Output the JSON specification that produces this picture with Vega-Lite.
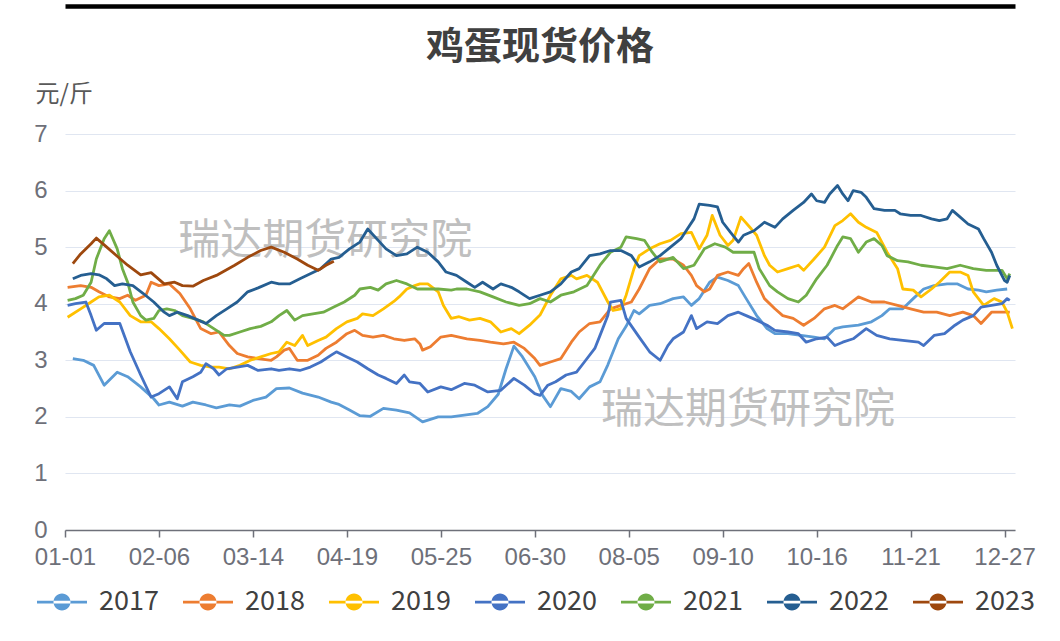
{
  "$schema": "https://vega.github.io/schema/vega-lite/v6.json",
  "width": 950,
  "height": 396,
  "autosize": {"type": "none"},
  "padding": {"left": 65, "top": 134, "right": 45, "bottom": 111},
  "background": "white",
  "config": {"font": "Noto Sans CJK SC", "view": {"stroke": null}},
  "title": {"text": "鸡蛋现货价格", "fontSize": 38, "fontWeight": "bold", "color": "#404040", "anchor": "middle", "frame": "group", "offset": -61},
  "datasets": {
    "wm": [
      {"t": "瑞达期货研究院", "d": 99.7, "v": 5.1},
      {"t": "瑞达期货研究院", "d": 261.7, "v": 2.12}
    ],
    "prices": [
      {"s":"2017","d":3,"v":3.03},{"s":"2017","d":7,"v":3.0},{"s":"2017","d":11,"v":2.91},{"s":"2017","d":15,"v":2.56},{"s":"2017","d":20,"v":2.79},{"s":"2017","d":24,"v":2.71},{"s":"2017","d":29,"v":2.53},{"s":"2017","d":34,"v":2.32},{"s":"2017","d":36,"v":2.21},{"s":"2017","d":40,"v":2.26},{"s":"2017","d":45,"v":2.19},{"s":"2017","d":49,"v":2.26},{"s":"2017","d":54,"v":2.21},{"s":"2017","d":58,"v":2.16},{"s":"2017","d":63,"v":2.21},{"s":"2017","d":67,"v":2.19},{"s":"2017","d":72,"v":2.29},{"s":"2017","d":77,"v":2.35},{"s":"2017","d":81,"v":2.5},{"s":"2017","d":86,"v":2.51},{"s":"2017","d":91,"v":2.42},{"s":"2017","d":97,"v":2.35},{"s":"2017","d":102,"v":2.26},{"s":"2017","d":105,"v":2.22},{"s":"2017","d":109,"v":2.12},{"s":"2017","d":113,"v":2.02},{"s":"2017","d":117,"v":2.01},{"s":"2017","d":122,"v":2.15},{"s":"2017","d":127,"v":2.12},{"s":"2017","d":132,"v":2.07},{"s":"2017","d":137,"v":1.91},{"s":"2017","d":143,"v":2.0},{"s":"2017","d":148,"v":2.0},{"s":"2017","d":153,"v":2.03},{"s":"2017","d":158,"v":2.06},{"s":"2017","d":162,"v":2.18},{"s":"2017","d":166,"v":2.4},{"s":"2017","d":169,"v":2.85},{"s":"2017","d":172,"v":3.25},{"s":"2017","d":175,"v":3.08},{"s":"2017","d":180,"v":2.71},{"s":"2017","d":183,"v":2.38},{"s":"2017","d":186,"v":2.18},{"s":"2017","d":190,"v":2.5},{"s":"2017","d":194,"v":2.45},{"s":"2017","d":197,"v":2.32},{"s":"2017","d":201,"v":2.53},{"s":"2017","d":205,"v":2.62},{"s":"2017","d":208,"v":2.92},{"s":"2017","d":212,"v":3.38},{"s":"2017","d":215,"v":3.6},{"s":"2017","d":218,"v":3.88},{"s":"2017","d":220,"v":3.82},{"s":"2017","d":224,"v":3.97},{"s":"2017","d":228,"v":4.0},{"s":"2017","d":233,"v":4.09},{"s":"2017","d":237,"v":4.12},{"s":"2017","d":240,"v":3.97},{"s":"2017","d":243,"v":4.09},{"s":"2017","d":247,"v":4.38},{"s":"2017","d":250,"v":4.47},{"s":"2017","d":254,"v":4.41},{"s":"2017","d":258,"v":4.32},{"s":"2017","d":261,"v":4.09},{"s":"2017","d":265,"v":3.79},{"s":"2017","d":269,"v":3.56},{"s":"2017","d":272,"v":3.47},{"s":"2017","d":277,"v":3.47},{"s":"2017","d":282,"v":3.44},{"s":"2017","d":287,"v":3.41},{"s":"2017","d":291,"v":3.38},{"s":"2017","d":295,"v":3.56},{"s":"2017","d":298,"v":3.59},{"s":"2017","d":304,"v":3.62},{"s":"2017","d":309,"v":3.68},{"s":"2017","d":313,"v":3.79},{"s":"2017","d":316,"v":3.91},{"s":"2017","d":321,"v":3.91},{"s":"2017","d":325,"v":4.09},{"s":"2017","d":329,"v":4.26},{"s":"2017","d":333,"v":4.32},{"s":"2017","d":338,"v":4.35},{"s":"2017","d":342,"v":4.35},{"s":"2017","d":346,"v":4.26},{"s":"2017","d":350,"v":4.24},{"s":"2017","d":353,"v":4.21},{"s":"2017","d":357,"v":4.24},{"s":"2017","d":361,"v":4.26},
      {"s":"2018","d":1,"v":4.29},{"s":"2018","d":6,"v":4.32},{"s":"2018","d":10,"v":4.29},{"s":"2018","d":13,"v":4.21},{"s":"2018","d":17,"v":4.12},{"s":"2018","d":21,"v":4.09},{"s":"2018","d":24,"v":4.15},{"s":"2018","d":27,"v":4.06},{"s":"2018","d":31,"v":4.15},{"s":"2018","d":33,"v":4.38},{"s":"2018","d":36,"v":4.32},{"s":"2018","d":40,"v":4.35},{"s":"2018","d":44,"v":4.18},{"s":"2018","d":48,"v":3.91},{"s":"2018","d":52,"v":3.56},{"s":"2018","d":56,"v":3.47},{"s":"2018","d":59,"v":3.5},{"s":"2018","d":63,"v":3.26},{"s":"2018","d":66,"v":3.12},{"s":"2018","d":70,"v":3.06},{"s":"2018","d":74,"v":3.03},{"s":"2018","d":79,"v":3.0},{"s":"2018","d":81,"v":3.06},{"s":"2018","d":84,"v":3.18},{"s":"2018","d":86,"v":3.21},{"s":"2018","d":89,"v":3.0},{"s":"2018","d":93,"v":3.0},{"s":"2018","d":97,"v":3.09},{"s":"2018","d":100,"v":3.21},{"s":"2018","d":104,"v":3.32},{"s":"2018","d":108,"v":3.47},{"s":"2018","d":111,"v":3.53},{"s":"2018","d":114,"v":3.44},{"s":"2018","d":118,"v":3.41},{"s":"2018","d":122,"v":3.44},{"s":"2018","d":126,"v":3.38},{"s":"2018","d":130,"v":3.35},{"s":"2018","d":134,"v":3.38},{"s":"2018","d":136,"v":3.29},{"s":"2018","d":137,"v":3.18},{"s":"2018","d":140,"v":3.24},{"s":"2018","d":144,"v":3.41},{"s":"2018","d":148,"v":3.44},{"s":"2018","d":154,"v":3.38},{"s":"2018","d":159,"v":3.35},{"s":"2018","d":163,"v":3.32},{"s":"2018","d":168,"v":3.29},{"s":"2018","d":172,"v":3.32},{"s":"2018","d":176,"v":3.21},{"s":"2018","d":180,"v":3.03},{"s":"2018","d":182,"v":2.91},{"s":"2018","d":186,"v":2.97},{"s":"2018","d":190,"v":3.03},{"s":"2018","d":194,"v":3.32},{"s":"2018","d":197,"v":3.5},{"s":"2018","d":201,"v":3.65},{"s":"2018","d":205,"v":3.68},{"s":"2018","d":209,"v":3.91},{"s":"2018","d":213,"v":3.97},{"s":"2018","d":217,"v":4.03},{"s":"2018","d":220,"v":4.26},{"s":"2018","d":224,"v":4.62},{"s":"2018","d":228,"v":4.79},{"s":"2018","d":233,"v":4.79},{"s":"2018","d":237,"v":4.68},{"s":"2018","d":240,"v":4.5},{"s":"2018","d":242,"v":4.32},{"s":"2018","d":245,"v":4.21},{"s":"2018","d":247,"v":4.26},{"s":"2018","d":250,"v":4.5},{"s":"2018","d":254,"v":4.56},{"s":"2018","d":258,"v":4.5},{"s":"2018","d":260,"v":4.62},{"s":"2018","d":262,"v":4.71},{"s":"2018","d":265,"v":4.38},{"s":"2018","d":268,"v":4.09},{"s":"2018","d":272,"v":3.91},{"s":"2018","d":275,"v":3.79},{"s":"2018","d":279,"v":3.74},{"s":"2018","d":283,"v":3.62},{"s":"2018","d":287,"v":3.74},{"s":"2018","d":291,"v":3.91},{"s":"2018","d":295,"v":3.97},{"s":"2018","d":298,"v":3.91},{"s":"2018","d":304,"v":4.12},{"s":"2018","d":309,"v":4.03},{"s":"2018","d":314,"v":4.03},{"s":"2018","d":319,"v":3.97},{"s":"2018","d":324,"v":3.91},{"s":"2018","d":329,"v":3.85},{"s":"2018","d":334,"v":3.85},{"s":"2018","d":339,"v":3.79},{"s":"2018","d":344,"v":3.85},{"s":"2018","d":348,"v":3.79},{"s":"2018","d":351,"v":3.65},{"s":"2018","d":355,"v":3.85},{"s":"2018","d":359,"v":3.85},{"s":"2018","d":362,"v":3.85},
      {"s":"2019","d":1,"v":3.76},{"s":"2019","d":6,"v":3.91},{"s":"2019","d":10,"v":4.03},{"s":"2019","d":13,"v":4.12},{"s":"2019","d":17,"v":4.15},{"s":"2019","d":21,"v":4.03},{"s":"2019","d":25,"v":3.79},{"s":"2019","d":29,"v":3.68},{"s":"2019","d":33,"v":3.68},{"s":"2019","d":36,"v":3.56},{"s":"2019","d":40,"v":3.38},{"s":"2019","d":44,"v":3.18},{"s":"2019","d":48,"v":2.97},{"s":"2019","d":52,"v":2.91},{"s":"2019","d":56,"v":2.88},{"s":"2019","d":59,"v":2.88},{"s":"2019","d":63,"v":2.85},{"s":"2019","d":67,"v":2.91},{"s":"2019","d":71,"v":3.0},{"s":"2019","d":75,"v":3.06},{"s":"2019","d":79,"v":3.12},{"s":"2019","d":82,"v":3.15},{"s":"2019","d":85,"v":3.32},{"s":"2019","d":88,"v":3.26},{"s":"2019","d":91,"v":3.44},{"s":"2019","d":93,"v":3.26},{"s":"2019","d":97,"v":3.35},{"s":"2019","d":100,"v":3.41},{"s":"2019","d":104,"v":3.56},{"s":"2019","d":108,"v":3.68},{"s":"2019","d":112,"v":3.74},{"s":"2019","d":114,"v":3.82},{"s":"2019","d":118,"v":3.79},{"s":"2019","d":122,"v":3.91},{"s":"2019","d":126,"v":4.04},{"s":"2019","d":128,"v":4.12},{"s":"2019","d":131,"v":4.26},{"s":"2019","d":134,"v":4.32},{"s":"2019","d":136,"v":4.35},{"s":"2019","d":139,"v":4.35},{"s":"2019","d":143,"v":4.21},{"s":"2019","d":145,"v":3.97},{"s":"2019","d":148,"v":3.74},{"s":"2019","d":151,"v":3.77},{"s":"2019","d":155,"v":3.71},{"s":"2019","d":159,"v":3.74},{"s":"2019","d":163,"v":3.68},{"s":"2019","d":167,"v":3.5},{"s":"2019","d":171,"v":3.56},{"s":"2019","d":174,"v":3.47},{"s":"2019","d":178,"v":3.62},{"s":"2019","d":182,"v":3.8},{"s":"2019","d":186,"v":4.15},{"s":"2019","d":190,"v":4.44},{"s":"2019","d":194,"v":4.5},{"s":"2019","d":196,"v":4.44},{"s":"2019","d":200,"v":4.5},{"s":"2019","d":204,"v":4.38},{"s":"2019","d":208,"v":4.03},{"s":"2019","d":210,"v":3.88},{"s":"2019","d":213,"v":3.91},{"s":"2019","d":215,"v":4.15},{"s":"2019","d":218,"v":4.62},{"s":"2019","d":220,"v":4.85},{"s":"2019","d":224,"v":4.97},{"s":"2019","d":228,"v":5.06},{"s":"2019","d":232,"v":5.12},{"s":"2019","d":236,"v":5.24},{"s":"2019","d":240,"v":5.26},{"s":"2019","d":243,"v":4.97},{"s":"2019","d":246,"v":5.21},{"s":"2019","d":248,"v":5.56},{"s":"2019","d":251,"v":5.21},{"s":"2019","d":254,"v":5.03},{"s":"2019","d":256,"v":5.12},{"s":"2019","d":259,"v":5.53},{"s":"2019","d":263,"v":5.32},{"s":"2019","d":265,"v":5.21},{"s":"2019","d":268,"v":4.85},{"s":"2019","d":270,"v":4.68},{"s":"2019","d":273,"v":4.56},{"s":"2019","d":277,"v":4.62},{"s":"2019","d":281,"v":4.68},{"s":"2019","d":283,"v":4.59},{"s":"2019","d":287,"v":4.79},{"s":"2019","d":291,"v":5.0},{"s":"2019","d":295,"v":5.38},{"s":"2019","d":298,"v":5.47},{"s":"2019","d":301,"v":5.59},{"s":"2019","d":304,"v":5.44},{"s":"2019","d":307,"v":5.35},{"s":"2019","d":311,"v":5.26},{"s":"2019","d":315,"v":4.91},{"s":"2019","d":319,"v":4.62},{"s":"2019","d":321,"v":4.26},{"s":"2019","d":325,"v":4.24},{"s":"2019","d":328,"v":4.12},{"s":"2019","d":332,"v":4.26},{"s":"2019","d":335,"v":4.38},{"s":"2019","d":339,"v":4.56},{"s":"2019","d":343,"v":4.56},{"s":"2019","d":346,"v":4.5},{"s":"2019","d":348,"v":4.21},{"s":"2019","d":352,"v":3.97},{"s":"2019","d":356,"v":4.09},{"s":"2019","d":359,"v":4.03},{"s":"2019","d":361,"v":3.85},{"s":"2019","d":363,"v":3.56},
      {"s":"2020","d":1,"v":3.97},{"s":"2020","d":4,"v":4.0},{"s":"2020","d":8,"v":4.03},{"s":"2020","d":10,"v":3.79},{"s":"2020","d":12,"v":3.53},{"s":"2020","d":15,"v":3.65},{"s":"2020","d":19,"v":3.65},{"s":"2020","d":21,"v":3.65},{"s":"2020","d":25,"v":3.15},{"s":"2020","d":29,"v":2.74},{"s":"2020","d":33,"v":2.35},{"s":"2020","d":36,"v":2.41},{"s":"2020","d":40,"v":2.53},{"s":"2020","d":43,"v":2.32},{"s":"2020","d":45,"v":2.62},{"s":"2020","d":49,"v":2.71},{"s":"2020","d":52,"v":2.79},{"s":"2020","d":54,"v":2.94},{"s":"2020","d":57,"v":2.85},{"s":"2020","d":59,"v":2.74},{"s":"2020","d":62,"v":2.85},{"s":"2020","d":66,"v":2.88},{"s":"2020","d":70,"v":2.91},{"s":"2020","d":74,"v":2.82},{"s":"2020","d":79,"v":2.85},{"s":"2020","d":82,"v":2.82},{"s":"2020","d":86,"v":2.85},{"s":"2020","d":90,"v":2.82},{"s":"2020","d":94,"v":2.88},{"s":"2020","d":98,"v":2.97},{"s":"2020","d":102,"v":3.09},{"s":"2020","d":104,"v":3.15},{"s":"2020","d":108,"v":3.06},{"s":"2020","d":112,"v":2.97},{"s":"2020","d":116,"v":2.85},{"s":"2020","d":120,"v":2.74},{"s":"2020","d":123,"v":2.68},{"s":"2020","d":127,"v":2.59},{"s":"2020","d":130,"v":2.74},{"s":"2020","d":132,"v":2.62},{"s":"2020","d":136,"v":2.59},{"s":"2020","d":139,"v":2.44},{"s":"2020","d":144,"v":2.53},{"s":"2020","d":148,"v":2.48},{"s":"2020","d":153,"v":2.59},{"s":"2020","d":157,"v":2.56},{"s":"2020","d":162,"v":2.44},{"s":"2020","d":167,"v":2.47},{"s":"2020","d":172,"v":2.68},{"s":"2020","d":176,"v":2.56},{"s":"2020","d":180,"v":2.41},{"s":"2020","d":182,"v":2.38},{"s":"2020","d":185,"v":2.56},{"s":"2020","d":188,"v":2.62},{"s":"2020","d":192,"v":2.74},{"s":"2020","d":196,"v":2.79},{"s":"2020","d":199,"v":2.97},{"s":"2020","d":203,"v":3.21},{"s":"2020","d":205,"v":3.44},{"s":"2020","d":208,"v":3.79},{"s":"2020","d":209,"v":4.03},{"s":"2020","d":213,"v":4.06},{"s":"2020","d":215,"v":3.74},{"s":"2020","d":220,"v":3.41},{"s":"2020","d":224,"v":3.15},{"s":"2020","d":228,"v":3.0},{"s":"2020","d":231,"v":3.26},{"s":"2020","d":233,"v":3.38},{"s":"2020","d":237,"v":3.5},{"s":"2020","d":240,"v":3.79},{"s":"2020","d":242,"v":3.56},{"s":"2020","d":246,"v":3.68},{"s":"2020","d":250,"v":3.65},{"s":"2020","d":254,"v":3.79},{"s":"2020","d":258,"v":3.85},{"s":"2020","d":261,"v":3.79},{"s":"2020","d":265,"v":3.71},{"s":"2020","d":269,"v":3.62},{"s":"2020","d":272,"v":3.53},{"s":"2020","d":277,"v":3.5},{"s":"2020","d":281,"v":3.47},{"s":"2020","d":284,"v":3.32},{"s":"2020","d":288,"v":3.38},{"s":"2020","d":292,"v":3.41},{"s":"2020","d":295,"v":3.26},{"s":"2020","d":298,"v":3.32},{"s":"2020","d":302,"v":3.38},{"s":"2020","d":307,"v":3.56},{"s":"2020","d":311,"v":3.44},{"s":"2020","d":316,"v":3.38},{"s":"2020","d":321,"v":3.35},{"s":"2020","d":327,"v":3.32},{"s":"2020","d":329,"v":3.26},{"s":"2020","d":333,"v":3.44},{"s":"2020","d":337,"v":3.47},{"s":"2020","d":341,"v":3.62},{"s":"2020","d":344,"v":3.71},{"s":"2020","d":348,"v":3.79},{"s":"2020","d":351,"v":3.94},{"s":"2020","d":355,"v":3.97},{"s":"2020","d":359,"v":4.0},{"s":"2020","d":361,"v":4.09},{"s":"2020","d":362,"v":4.06},
      {"s":"2021","d":1,"v":4.06},{"s":"2021","d":4,"v":4.09},{"s":"2021","d":7,"v":4.15},{"s":"2021","d":10,"v":4.38},{"s":"2021","d":12,"v":4.79},{"s":"2021","d":15,"v":5.15},{"s":"2021","d":17,"v":5.29},{"s":"2021","d":20,"v":4.97},{"s":"2021","d":22,"v":4.62},{"s":"2021","d":24,"v":4.38},{"s":"2021","d":26,"v":4.03},{"s":"2021","d":29,"v":3.79},{"s":"2021","d":31,"v":3.71},{"s":"2021","d":34,"v":3.74},{"s":"2021","d":36,"v":3.88},{"s":"2021","d":39,"v":3.91},{"s":"2021","d":42,"v":3.88},{"s":"2021","d":45,"v":3.79},{"s":"2021","d":49,"v":3.74},{"s":"2021","d":53,"v":3.68},{"s":"2021","d":57,"v":3.56},{"s":"2021","d":61,"v":3.44},{"s":"2021","d":63,"v":3.44},{"s":"2021","d":67,"v":3.5},{"s":"2021","d":71,"v":3.56},{"s":"2021","d":75,"v":3.6},{"s":"2021","d":79,"v":3.68},{"s":"2021","d":82,"v":3.79},{"s":"2021","d":85,"v":3.88},{"s":"2021","d":88,"v":3.71},{"s":"2021","d":91,"v":3.79},{"s":"2021","d":95,"v":3.82},{"s":"2021","d":99,"v":3.85},{"s":"2021","d":103,"v":3.94},{"s":"2021","d":107,"v":4.03},{"s":"2021","d":111,"v":4.15},{"s":"2021","d":113,"v":4.26},{"s":"2021","d":117,"v":4.29},{"s":"2021","d":120,"v":4.24},{"s":"2021","d":123,"v":4.35},{"s":"2021","d":127,"v":4.41},{"s":"2021","d":131,"v":4.35},{"s":"2021","d":135,"v":4.26},{"s":"2021","d":139,"v":4.26},{"s":"2021","d":143,"v":4.26},{"s":"2021","d":148,"v":4.24},{"s":"2021","d":150,"v":4.26},{"s":"2021","d":154,"v":4.26},{"s":"2021","d":159,"v":4.21},{"s":"2021","d":164,"v":4.12},{"s":"2021","d":169,"v":4.03},{"s":"2021","d":174,"v":3.97},{"s":"2021","d":178,"v":4.0},{"s":"2021","d":182,"v":4.09},{"s":"2021","d":186,"v":4.03},{"s":"2021","d":190,"v":4.15},{"s":"2021","d":195,"v":4.21},{"s":"2021","d":200,"v":4.32},{"s":"2021","d":205,"v":4.68},{"s":"2021","d":209,"v":4.91},{"s":"2021","d":213,"v":5.0},{"s":"2021","d":215,"v":5.18},{"s":"2021","d":219,"v":5.15},{"s":"2021","d":222,"v":5.12},{"s":"2021","d":225,"v":4.91},{"s":"2021","d":228,"v":4.74},{"s":"2021","d":233,"v":4.82},{"s":"2021","d":237,"v":4.62},{"s":"2021","d":241,"v":4.68},{"s":"2021","d":245,"v":4.97},{"s":"2021","d":249,"v":5.06},{"s":"2021","d":253,"v":5.0},{"s":"2021","d":256,"v":4.91},{"s":"2021","d":260,"v":4.91},{"s":"2021","d":264,"v":4.91},{"s":"2021","d":266,"v":4.62},{"s":"2021","d":270,"v":4.32},{"s":"2021","d":273,"v":4.21},{"s":"2021","d":277,"v":4.09},{"s":"2021","d":281,"v":4.03},{"s":"2021","d":284,"v":4.15},{"s":"2021","d":288,"v":4.44},{"s":"2021","d":292,"v":4.68},{"s":"2021","d":296,"v":5.03},{"s":"2021","d":298,"v":5.18},{"s":"2021","d":301,"v":5.15},{"s":"2021","d":304,"v":4.91},{"s":"2021","d":307,"v":5.09},{"s":"2021","d":310,"v":5.15},{"s":"2021","d":313,"v":5.03},{"s":"2021","d":315,"v":4.85},{"s":"2021","d":319,"v":4.76},{"s":"2021","d":323,"v":4.74},{"s":"2021","d":328,"v":4.68},{"s":"2021","d":333,"v":4.65},{"s":"2021","d":338,"v":4.62},{"s":"2021","d":343,"v":4.68},{"s":"2021","d":348,"v":4.62},{"s":"2021","d":353,"v":4.59},{"s":"2021","d":359,"v":4.59},{"s":"2021","d":361,"v":4.44},{"s":"2021","d":362,"v":4.53},
      {"s":"2022","d":3,"v":4.44},{"s":"2022","d":6,"v":4.5},{"s":"2022","d":10,"v":4.53},{"s":"2022","d":13,"v":4.51},{"s":"2022","d":16,"v":4.44},{"s":"2022","d":19,"v":4.32},{"s":"2022","d":22,"v":4.35},{"s":"2022","d":26,"v":4.32},{"s":"2022","d":30,"v":4.18},{"s":"2022","d":34,"v":4.03},{"s":"2022","d":38,"v":3.85},{"s":"2022","d":40,"v":3.79},{"s":"2022","d":43,"v":3.85},{"s":"2022","d":47,"v":3.79},{"s":"2022","d":51,"v":3.71},{"s":"2022","d":54,"v":3.65},{"s":"2022","d":58,"v":3.79},{"s":"2022","d":62,"v":3.91},{"s":"2022","d":66,"v":4.03},{"s":"2022","d":70,"v":4.21},{"s":"2022","d":74,"v":4.28},{"s":"2022","d":79,"v":4.38},{"s":"2022","d":82,"v":4.35},{"s":"2022","d":86,"v":4.35},{"s":"2022","d":90,"v":4.44},{"s":"2022","d":94,"v":4.53},{"s":"2022","d":98,"v":4.62},{"s":"2022","d":102,"v":4.79},{"s":"2022","d":105,"v":4.82},{"s":"2022","d":109,"v":4.97},{"s":"2022","d":113,"v":5.09},{"s":"2022","d":116,"v":5.32},{"s":"2022","d":120,"v":5.12},{"s":"2022","d":123,"v":4.97},{"s":"2022","d":127,"v":4.85},{"s":"2022","d":131,"v":4.88},{"s":"2022","d":135,"v":5.0},{"s":"2022","d":139,"v":4.91},{"s":"2022","d":143,"v":4.74},{"s":"2022","d":146,"v":4.56},{"s":"2022","d":150,"v":4.5},{"s":"2022","d":154,"v":4.38},{"s":"2022","d":157,"v":4.29},{"s":"2022","d":160,"v":4.38},{"s":"2022","d":164,"v":4.26},{"s":"2022","d":167,"v":4.35},{"s":"2022","d":171,"v":4.29},{"s":"2022","d":174,"v":4.21},{"s":"2022","d":178,"v":4.09},{"s":"2022","d":182,"v":4.15},{"s":"2022","d":186,"v":4.21},{"s":"2022","d":190,"v":4.35},{"s":"2022","d":194,"v":4.56},{"s":"2022","d":197,"v":4.62},{"s":"2022","d":201,"v":4.85},{"s":"2022","d":205,"v":4.88},{"s":"2022","d":209,"v":4.94},{"s":"2022","d":213,"v":4.94},{"s":"2022","d":217,"v":4.85},{"s":"2022","d":220,"v":4.65},{"s":"2022","d":224,"v":4.74},{"s":"2022","d":228,"v":4.85},{"s":"2022","d":232,"v":5.0},{"s":"2022","d":236,"v":5.15},{"s":"2022","d":238,"v":5.29},{"s":"2022","d":241,"v":5.5},{"s":"2022","d":243,"v":5.76},{"s":"2022","d":247,"v":5.74},{"s":"2022","d":250,"v":5.71},{"s":"2022","d":252,"v":5.44},{"s":"2022","d":255,"v":5.26},{"s":"2022","d":258,"v":5.09},{"s":"2022","d":260,"v":5.21},{"s":"2022","d":264,"v":5.29},{"s":"2022","d":268,"v":5.44},{"s":"2022","d":272,"v":5.35},{"s":"2022","d":275,"v":5.5},{"s":"2022","d":279,"v":5.65},{"s":"2022","d":283,"v":5.79},{"s":"2022","d":286,"v":5.94},{"s":"2022","d":288,"v":5.82},{"s":"2022","d":291,"v":5.79},{"s":"2022","d":293,"v":5.94},{"s":"2022","d":296,"v":6.09},{"s":"2022","d":298,"v":5.94},{"s":"2022","d":300,"v":5.82},{"s":"2022","d":302,"v":6.0},{"s":"2022","d":305,"v":5.97},{"s":"2022","d":307,"v":5.88},{"s":"2022","d":310,"v":5.68},{"s":"2022","d":314,"v":5.65},{"s":"2022","d":318,"v":5.65},{"s":"2022","d":320,"v":5.59},{"s":"2022","d":324,"v":5.56},{"s":"2022","d":328,"v":5.56},{"s":"2022","d":332,"v":5.5},{"s":"2022","d":335,"v":5.47},{"s":"2022","d":338,"v":5.5},{"s":"2022","d":340,"v":5.65},{"s":"2022","d":343,"v":5.53},{"s":"2022","d":346,"v":5.41},{"s":"2022","d":350,"v":5.32},{"s":"2022","d":352,"v":5.15},{"s":"2022","d":355,"v":4.91},{"s":"2022","d":357,"v":4.68},{"s":"2022","d":360,"v":4.41},{"s":"2022","d":361,"v":4.38},{"s":"2022","d":362,"v":4.5},
      {"s":"2023","d":3,"v":4.71},{"s":"2023","d":6,"v":4.88},{"s":"2023","d":10,"v":5.06},{"s":"2023","d":12,"v":5.16},{"s":"2023","d":16,"v":5.0},{"s":"2023","d":20,"v":4.84},{"s":"2023","d":24,"v":4.68},{"s":"2023","d":29,"v":4.51},{"s":"2023","d":33,"v":4.55},{"s":"2023","d":38,"v":4.35},{"s":"2023","d":42,"v":4.38},{"s":"2023","d":45,"v":4.32},{"s":"2023","d":49,"v":4.31},{"s":"2023","d":53,"v":4.41},{"s":"2023","d":58,"v":4.5},{"s":"2023","d":65,"v":4.68},{"s":"2023","d":70,"v":4.82},{"s":"2023","d":75,"v":4.94},{"s":"2023","d":79,"v":5.0},{"s":"2023","d":84,"v":4.91},{"s":"2023","d":89,"v":4.79},{"s":"2023","d":93,"v":4.68},{"s":"2023","d":97,"v":4.59},{"s":"2023","d":100,"v":4.68},{"s":"2023","d":103,"v":4.75}
    ]
  },
  "layer": [
    {
      "data": {"name": "wm"},
      "mark": {"type": "text", "fontSize": 42, "color": "#b4b4b4", "opacity": 0.85, "align": "center", "baseline": "middle"},
      "encoding": {
        "x": {"field": "d", "type": "quantitative", "scale": {"domain": [0, 364], "nice": false, "zero": false},
              "axis": {"orient": "top", "offset": 128, "labels": false, "ticks": false, "grid": false, "domainColor": "#000000", "domainWidth": 4.5, "title": null}},
        "y": {"field": "v", "type": "quantitative"},
        "text": {"field": "t"}
      }
    },
    {
      "data": {"name": "prices"},
      "mark": {"type": "line", "strokeWidth": 2.8, "strokeJoin": "round"},
      "encoding": {
        "x": {"field": "d", "type": "quantitative", "scale": {"domain": [0, 364], "nice": false, "zero": false},
              "axis": {"title": null, "values": [0, 36, 72, 108, 144, 180, 216, 252, 288, 324, 360],
                       "labelExpr": "timeFormat(datetime(2021, 0, 1 + datum.value), '%m-%d')",
                       "grid": false, "domainColor": "#6e7079", "domainWidth": 1.5, "tickColor": "#6e7079", "tickWidth": 1.5, "tickSize": 7,
                       "labelFont": "Liberation Sans", "labelFontSize": 24, "labelColor": "#6e7079", "labelPadding": 8, "labelFlush": false, "labelOverlap": false}},
        "y": {"field": "v", "type": "quantitative", "scale": {"domain": [0, 7], "nice": false},
              "axis": {"title": "元/斤", "titleAngle": 0, "titleAlign": "left", "titleBaseline": "alphabetic", "titleX": -30, "titleY": -33,
                       "titleFontSize": 24, "titleFontWeight": "normal", "titleColor": "#595959", "format": "d",
                       "values": [0, 1, 2, 3, 4, 5, 6, 7], "grid": true, "gridColor": "#e0e6f1", "gridWidth": 1.2,
                       "domain": false, "ticks": false, "labelFont": "Liberation Sans", "labelFontSize": 24, "labelColor": "#6e7079", "labelPadding": 18}},
        "color": {"field": "s", "type": "nominal",
                  "scale": {"domain": ["2017", "2018", "2019", "2020", "2021", "2022", "2023"],
                            "range": ["#5B9BD5", "#ED7D31", "#FFC000", "#4472C4", "#70AD47", "#255E91", "#9E480E"]},
                  "legend": {"orient": "none", "legendX": -28, "legendY": 443, "direction": "horizontal", "columns": 7, "title": null, "padding": 0,
                             "symbolType": "M-1,-0.055H1V0.055H-1Z M-0.34,0A0.34,0.34 0 1,0 0.34,0A0.34,0.34 0 1,0 -0.34,0Z",
                             "symbolSize": 2500, "symbolStrokeWidth": 0, "labelFontSize": 27, "labelColor": "#404040", "labelOffset": 12, "columnPadding": 24,
                             "encode": {"symbols": {"update": {"fill": {"scale": "color", "field": "value"}, "opacity": {"value": 1}}}}}}
      }
    }
  ],
  "resolve": {"axis": {"x": "independent"}}
}
